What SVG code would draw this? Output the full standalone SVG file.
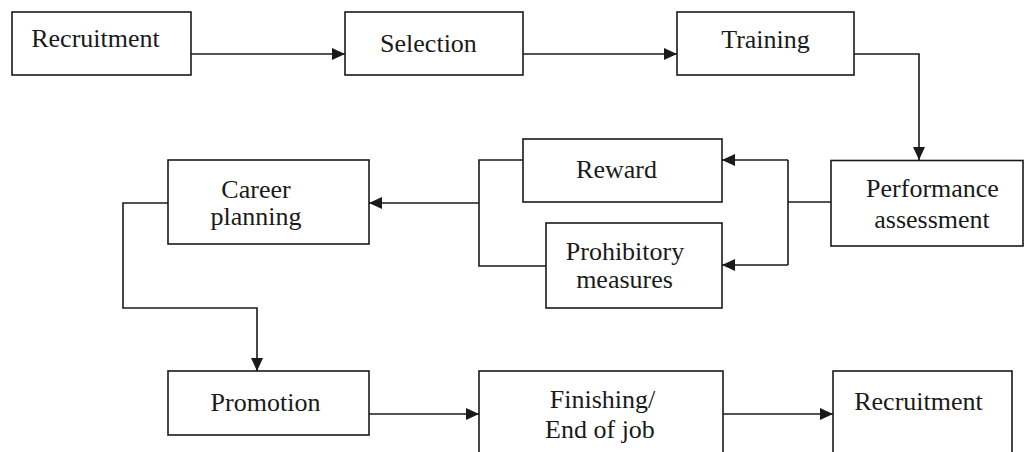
<svg xmlns="http://www.w3.org/2000/svg" width="1027" height="452" viewBox="0 0 1027 452">
<style>
.box{fill:#fff;stroke:#1a1a1a;stroke-width:1.6}
.t{font-family:"Liberation Serif","Times New Roman",serif;font-size:26px;fill:#1a1a1a;text-anchor:middle}
.c{fill:none;stroke:#1a1a1a;stroke-width:1.6}
</style>
<defs>
<marker id="ah" markerWidth="14" markerHeight="12" refX="13" refY="6" orient="auto" markerUnits="userSpaceOnUse">
<path d="M0,0 L13,6 L0,12 Z" fill="#1a1a1a"/>
</marker>
</defs>
<rect width="1027" height="452" fill="#fff"/>
<g id="connectors">
<path class="c" d="M191,54 H345" marker-end="url(#ah)"/>
<path class="c" d="M523,54 H677" marker-end="url(#ah)"/>
<path class="c" d="M854,54 H919 V160" marker-end="url(#ah)"/>
<path class="c" d="M831,202 H788"/>
<path class="c" d="M788,160 V265"/>
<path class="c" d="M788,160 H722" marker-end="url(#ah)"/>
<path class="c" d="M788,265 H722" marker-end="url(#ah)"/>
<path class="c" d="M523,160 H479 V266 H546"/>
<path class="c" d="M479,203 H369" marker-end="url(#ah)"/>
<path class="c" d="M168,203 H123 V308 H257 V371" marker-end="url(#ah)"/>
<path class="c" d="M369,414 H479" marker-end="url(#ah)"/>
<path class="c" d="M723,414 H833" marker-end="url(#ah)"/>
</g>
<g id="recruitment1"><rect class="box" x="12" y="12" width="179" height="63"/><text class="t" x="95.5" y="47">Recruitment</text></g>
<g id="selection"><rect class="box" x="345" y="12" width="178" height="63"/><text class="t" x="428.5" y="52">Selection</text></g>
<g id="training"><rect class="box" x="677" y="12" width="177" height="63"/><text class="t" x="765.5" y="48">Training</text></g>
<g id="performance"><rect class="box" x="831" y="160.5" width="192" height="85.5"/><text class="t" x="932.5" y="197">Performance</text><text class="t" x="932" y="228">assessment</text></g>
<g id="reward"><rect class="box" x="523" y="139" width="199" height="63"/><text class="t" x="616.5" y="178">Reward</text></g>
<g id="prohibitory"><rect class="box" x="546" y="223" width="176" height="85"/><text class="t" x="625" y="260">Prohibitory</text><text class="t" x="624.5" y="288">measures</text></g>
<g id="career"><rect class="box" x="168" y="160" width="201" height="84"/><text class="t" x="256" y="198">Career</text><text class="t" x="256" y="225">planning</text></g>
<g id="promotion"><rect class="box" x="168" y="371" width="201" height="64"/><text class="t" x="265.5" y="411">Promotion</text></g>
<g id="finishing"><rect class="box" x="479" y="371" width="244" height="95"/><text class="t" x="602.5" y="408">Finishing/</text><text class="t" x="600" y="438">End of job</text></g>
<g id="recruitment2"><rect class="box" x="833" y="371" width="179" height="95"/><text class="t" x="918.5" y="410">Recruitment</text></g>
</svg>
